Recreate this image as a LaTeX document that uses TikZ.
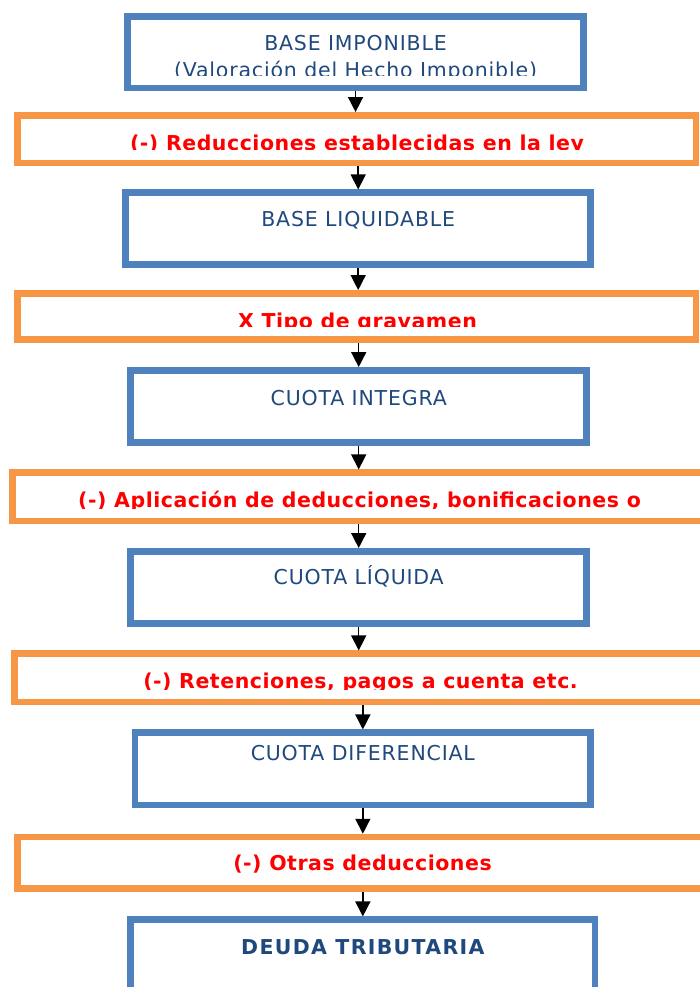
\documentclass[tikz,border=0pt]{standalone}
\usepackage{fontspec}
\setmainfont{DejaVu Sans}[LetterSpace=4]
\newfontfamily\redfam{DejaVu Sans}[LetterSpace=2.6]
\newfontfamily\deudafam{DejaVu Sans}[LetterSpace=6.4]
\usetikzlibrary{arrows.meta}
\definecolor{boxblue}{HTML}{4F81BD}
\definecolor{boxorange}{HTML}{F79646}
\definecolor{txtblue}{HTML}{1F497D}
\definecolor{txtred}{HTML}{FF0000}
\tikzset{
  bluebox/.style={draw=boxblue, line width=6.5pt, minimum width=#1, inner sep=0pt},
  orangebox/.style={draw=boxorange, line width=6.5pt, minimum width=#1, inner sep=0pt},
  bluetxt/.style={anchor=base, inner sep=0pt, text=txtblue, font=\fontsize{20.5}{24}\selectfont},
  redtxt/.style={anchor=base, inner sep=0pt, text=txtred, font=\redfam\fontsize{20.5}{24}\selectfont\bfseries},
  flow/.style={draw=black, line width=1.5pt, -{Triangle[width=15pt,length=15pt]}}
}
\begin{document}
\begin{tikzpicture}[x=1pt,y=-1pt]
\useasboundingbox (0,0) rectangle (700,987);
\clip (0,0) rectangle (700,987);
% boxes
\node[bluebox=456.3pt, minimum height=71.3pt] (b1) at (355.55,52.35) {};
\node[orangebox=678.3pt, minimum height=47.7pt] (o2) at (356.85,139.15) {};
\node[bluebox=465pt, minimum height=72pt] (b3) at (358.2,228.7) {};
\node[orangebox=678.3pt, minimum height=46.4pt] (o4) at (356.85,316.5) {};
\node[bluebox=456pt, minimum height=72pt] (b5) at (358.7,406.3) {};
\node[orangebox=695.3pt, minimum height=48.3pt] (o6) at (360.35,496.85) {};
\node[bluebox=456pt, minimum height=72pt] (b7) at (358.7,587.3) {};
\node[orangebox=695.7pt, minimum height=48.3pt] (o8) at (362.15,677.85) {};
\node[bluebox=455.7pt, minimum height=72.3pt] (b9) at (362.85,768.85) {};
\node[orangebox=692.3pt, minimum height=51.7pt] (o10) at (363.85,862.85) {};
\node[bluebox=464.3pt, minimum height=72pt] (b11) at (362.85,955.7) {};
% texts
\node[bluetxt] (t1a) at (355.5,51) {BASE IMPONIBLE};
\begin{scope}\clip (0,0) rectangle (700,76);
\node[bluetxt] (t1b) at (355.5,78) {(Valoración del Hecho Imponible)};
\end{scope}
\begin{scope}\clip (0,0) rectangle (700,150);
\node[redtxt] (t2) at (357,151) {(-) Reducciones establecidas en la ley};
\end{scope}
\node[bluetxt] (t3) at (358.2,226) {BASE LIQUIDABLE};
\begin{scope}\clip (0,0) rectangle (700,326.7);
\node[redtxt] (t4) at (357.5,328.3) {X Tipo de gravamen};
\end{scope}
\node[bluetxt] (t5) at (358.7,405.5) {CUOTA INTEGRA};
\begin{scope}\clip (0,0) rectangle (700,508.3);
\node[redtxt] (t6) at (359.5,507.7) {(-) Aplicación de deducciones, bonificaciones o};
\end{scope}
\node[bluetxt] (t7) at (358.7,584.5) {CUOTA LÍQUIDA};
\begin{scope}\clip (0,0) rectangle (700,689.3);
\node[redtxt] (t8) at (360.5,688.3) {(-) Retenciones, pagos a cuenta etc.};
\end{scope}
\node[bluetxt] (t9) at (362.85,760.5) {CUOTA DIFERENCIAL};
\node[redtxt] (t10) at (362.5,870) {(-) Otras deducciones};
\node[bluetxt, font=\deudafam\fontsize{20.5}{24}\selectfont\bfseries] (t11) at (362.85,954) {DEUDA TRIBUTARIA};
% arrows
\draw[flow] (b1.south) -- (b1.south |- o2.north);
\draw[flow] (o2.south -| b3.north) -- (b3.north);
\draw[flow] (b3.south) -- (b3.south |- o4.north);
\draw[flow] (o4.south -| b5.north) -- (b5.north);
\draw[flow] (b5.south) -- (b5.south |- o6.north);
\draw[flow] (o6.south -| b7.north) -- (b7.north);
\draw[flow] (b7.south) -- (b7.south |- o8.north);
\draw[flow] (o8.south -| b9.north) -- (b9.north);
\draw[flow] (b9.south) -- (b9.south |- o10.north);
\draw[flow] (o10.south -| b11.north) -- (b11.north);
\end{tikzpicture}
\end{document}
